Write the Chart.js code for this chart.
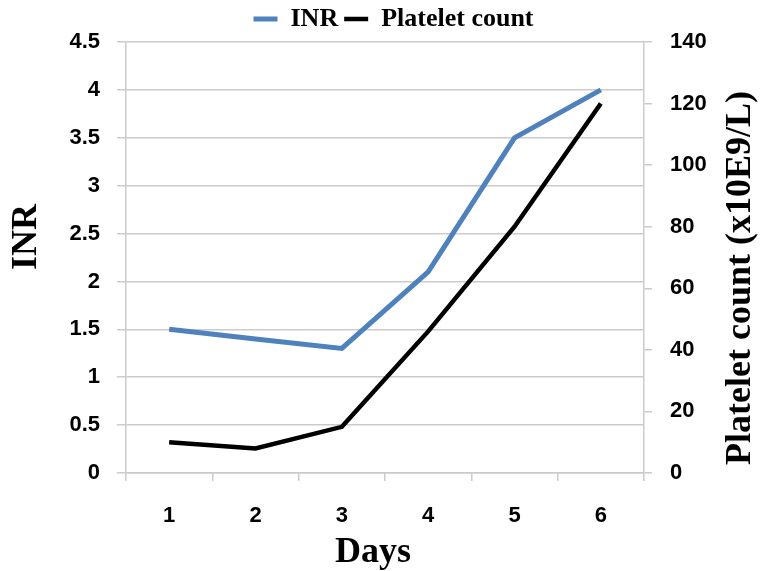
<!DOCTYPE html>
<html lang="en">

<head>
    <meta charset="UTF-8">
    <title>INR and Platelet count</title>
    <script src="https://cdn.jsdelivr.net/npm/chart.js"></script>
    <style>
        html, body {
            margin: 0;
            padding: 0;
            background: #fff;
        }

        .chart-container {
            width: 764px;
            height: 571px;
        }
    </style>
</head>

<body>
    <div class="chart-container">
        <canvas id="labChart"></canvas>
    </div>

    <script>
        const days = ['1', '2', '3', '4', '5', '6'];
        const inrValues = [1.5, 1.4, 1.3, 2.1, 3.5, 4.0];
        const plateletValues = [10, 8, 15, 46, 80, 120];
        const xTitle = 'Days';
        const leftTitle = 'INR';
        const rightTitle = 'Platelet count (x10E9/L)';

        const gridGray = '#cbcbcb';
        const tickFont = { family: 'Liberation Sans', size: 22, weight: 'bold' };
        const titleCss = 'bold 36px "Liberation Serif"';

        // axis titles drawn by hand: Excel puts them off-centre and the right one reads bottom-to-top
        const axisTitles = {
            id: 'axisTitles',
            afterDraw(chart) {
                const ctx = chart.ctx;
                ctx.save();
                ctx.font = titleCss;
                ctx.fillStyle = '#000';
                ctx.textAlign = 'center';

                ctx.textBaseline = 'alphabetic';
                ctx.fillText(xTitle, 373, 562);

                ctx.textBaseline = 'middle';
                ctx.save();
                ctx.translate(27, 237);
                ctx.rotate(-Math.PI / 2);
                ctx.fillText(leftTitle, 0, 0);
                ctx.restore();

                ctx.save();
                ctx.translate(741, 278);
                ctx.rotate(-Math.PI / 2);
                ctx.fillText(rightTitle, 0, 0);
                ctx.restore();

                ctx.restore();
            }
        };

        const labChart = new Chart(document.getElementById('labChart').getContext('2d'), {
            type: 'line',
            data: {
                labels: days,
                datasets: [{
                    label: 'INR',
                    data: inrValues,
                    borderColor: '#4f81bd',
                    backgroundColor: '#4f81bd',
                    borderWidth: 5,
                    pointRadius: 0,
                    tension: 0,
                    yAxisID: 'y'
                }, {
                    label: 'Platelet count',
                    data: plateletValues,
                    borderColor: '#000000',
                    backgroundColor: '#000000',
                    borderWidth: 4.5,
                    pointRadius: 0,
                    tension: 0,
                    yAxisID: 'y1'
                }]
            },
            plugins: [axisTitles],
            options: {
                responsive: true,
                maintainAspectRatio: false,
                animation: false,
                layout: {
                    padding: { left: 23, right: 0, top: 0, bottom: 0 }
                },
                plugins: {
                    tooltip: { enabled: false },
                    legend: {
                        position: 'top',
                        labels: {
                            color: '#000',
                            font: { family: 'Liberation Serif', size: 26, weight: 'bold' },
                            usePointStyle: true,
                            pointStyle: 'line',
                            pointStyleWidth: 24,
                            padding: 6
                        }
                    }
                },
                scales: {
                    x: {
                        offset: true,
                        afterFit: scale => { scale.height = 98; },
                        grid: {
                            offset: true,
                            drawOnChartArea: false,
                            tickLength: 8,
                            color: gridGray,
                            lineWidth: 1.5
                        },
                        border: { color: gridGray, width: 1.5 },
                        ticks: { color: '#000', font: tickFont, padding: 22 }
                    },
                    y: {
                        position: 'left',
                        min: 0,
                        max: 4.5,
                        afterFit: scale => { scale.width = 103; },
                        ticks: {
                            stepSize: 0.5,
                            color: '#000',
                            font: tickFont,
                            padding: 17,
                            callback: value => String(value)
                        },
                        grid: { color: gridGray, lineWidth: 1.5, tickLength: 9 },
                        border: { color: gridGray, width: 1.5 }
                    },
                    y1: {
                        position: 'right',
                        min: 0,
                        max: 140,
                        afterFit: scale => { scale.width = 120; },
                        ticks: { stepSize: 20, color: '#000', font: tickFont, padding: 18 },
                        grid: { drawOnChartArea: false, color: gridGray, lineWidth: 1.5, tickLength: 8 },
                        border: { color: gridGray, width: 1.5 }
                    }
                }
            }
        });
    </script>
</body>

</html>
